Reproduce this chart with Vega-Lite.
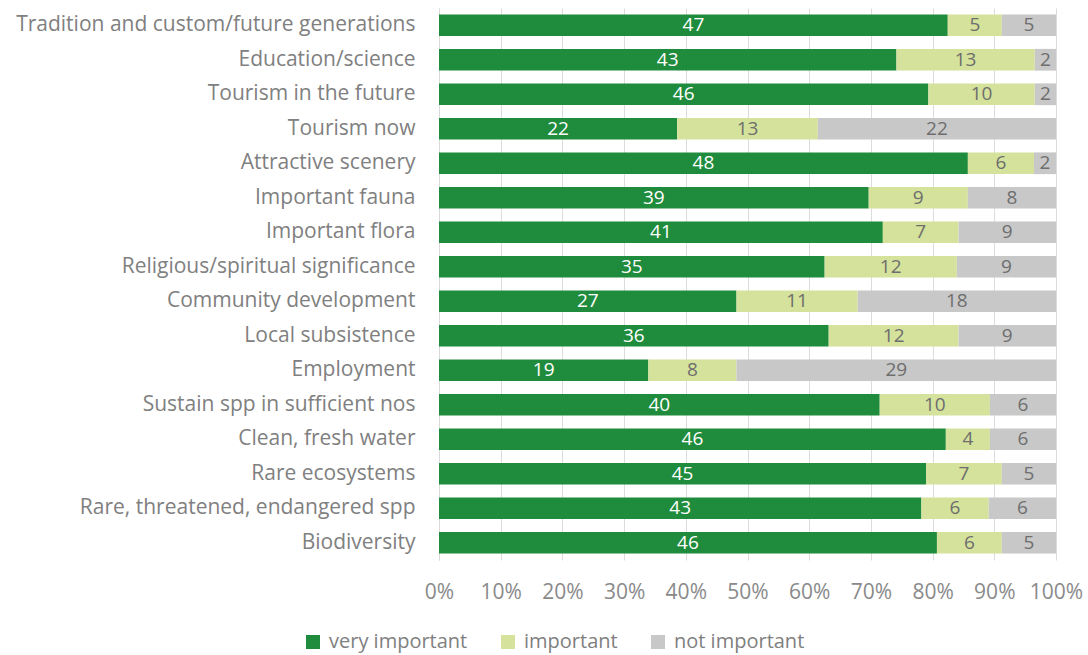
{
  "$schema": "https://vega.github.io/schema/vega-lite/v6.json",
  "width": 617,
  "height": 552,
  "autosize": {"type": "none"},
  "padding": {"left": 439, "top": 8, "right": 32, "bottom": 95},
  "background": "white",
  "config": {"view": {"stroke": null}, "font": "Open Sans"},
  "data": {
    "values": [
      {"category": "Tradition and custom/future generations", "level": "very important", "ord": 1, "value": 47},
      {"category": "Tradition and custom/future generations", "level": "important", "ord": 2, "value": 5},
      {"category": "Tradition and custom/future generations", "level": "not important", "ord": 3, "value": 5},
      {"category": "Education/science", "level": "very important", "ord": 1, "value": 43},
      {"category": "Education/science", "level": "important", "ord": 2, "value": 13},
      {"category": "Education/science", "level": "not important", "ord": 3, "value": 2},
      {"category": "Tourism in the future", "level": "very important", "ord": 1, "value": 46},
      {"category": "Tourism in the future", "level": "important", "ord": 2, "value": 10},
      {"category": "Tourism in the future", "level": "not important", "ord": 3, "value": 2},
      {"category": "Tourism now", "level": "very important", "ord": 1, "value": 22},
      {"category": "Tourism now", "level": "important", "ord": 2, "value": 13},
      {"category": "Tourism now", "level": "not important", "ord": 3, "value": 22},
      {"category": "Attractive scenery", "level": "very important", "ord": 1, "value": 48},
      {"category": "Attractive scenery", "level": "important", "ord": 2, "value": 6},
      {"category": "Attractive scenery", "level": "not important", "ord": 3, "value": 2},
      {"category": "Important fauna", "level": "very important", "ord": 1, "value": 39},
      {"category": "Important fauna", "level": "important", "ord": 2, "value": 9},
      {"category": "Important fauna", "level": "not important", "ord": 3, "value": 8},
      {"category": "Important flora", "level": "very important", "ord": 1, "value": 41},
      {"category": "Important flora", "level": "important", "ord": 2, "value": 7},
      {"category": "Important flora", "level": "not important", "ord": 3, "value": 9},
      {"category": "Religious/spiritual significance", "level": "very important", "ord": 1, "value": 35},
      {"category": "Religious/spiritual significance", "level": "important", "ord": 2, "value": 12},
      {"category": "Religious/spiritual significance", "level": "not important", "ord": 3, "value": 9},
      {"category": "Community development", "level": "very important", "ord": 1, "value": 27},
      {"category": "Community development", "level": "important", "ord": 2, "value": 11},
      {"category": "Community development", "level": "not important", "ord": 3, "value": 18},
      {"category": "Local subsistence", "level": "very important", "ord": 1, "value": 36},
      {"category": "Local subsistence", "level": "important", "ord": 2, "value": 12},
      {"category": "Local subsistence", "level": "not important", "ord": 3, "value": 9},
      {"category": "Employment", "level": "very important", "ord": 1, "value": 19},
      {"category": "Employment", "level": "important", "ord": 2, "value": 8},
      {"category": "Employment", "level": "not important", "ord": 3, "value": 29},
      {"category": "Sustain spp in sufficient nos", "level": "very important", "ord": 1, "value": 40},
      {"category": "Sustain spp in sufficient nos", "level": "important", "ord": 2, "value": 10},
      {"category": "Sustain spp in sufficient nos", "level": "not important", "ord": 3, "value": 6},
      {"category": "Clean, fresh water", "level": "very important", "ord": 1, "value": 46},
      {"category": "Clean, fresh water", "level": "important", "ord": 2, "value": 4},
      {"category": "Clean, fresh water", "level": "not important", "ord": 3, "value": 6},
      {"category": "Rare ecosystems", "level": "very important", "ord": 1, "value": 45},
      {"category": "Rare ecosystems", "level": "important", "ord": 2, "value": 7},
      {"category": "Rare ecosystems", "level": "not important", "ord": 3, "value": 5},
      {"category": "Rare, threatened, endangered spp", "level": "very important", "ord": 1, "value": 43},
      {"category": "Rare, threatened, endangered spp", "level": "important", "ord": 2, "value": 6},
      {"category": "Rare, threatened, endangered spp", "level": "not important", "ord": 3, "value": 6},
      {"category": "Biodiversity", "level": "very important", "ord": 1, "value": 46},
      {"category": "Biodiversity", "level": "important", "ord": 2, "value": 6},
      {"category": "Biodiversity", "level": "not important", "ord": 3, "value": 5}
    ]
  },
  "encoding": {
    "y": {
      "field": "category",
      "type": "nominal",
      "sort": ["Tradition and custom/future generations", "Education/science", "Tourism in the future", "Tourism now", "Attractive scenery", "Important fauna", "Important flora", "Religious/spiritual significance", "Community development", "Local subsistence", "Employment", "Sustain spp in sufficient nos", "Clean, fresh water", "Rare ecosystems", "Rare, threatened, endangered spp", "Biodiversity"],
      "scale": {"paddingInner": 0.37, "paddingOuter": 0.185},
      "axis": {
        "title": null,
        "domain": true,
        "domainColor": "#d9d9d9",
        "ticks": false,
        "grid": false,
        "labelFontSize": 21,
        "labelColor": "#808080",
        "labelPadding": 24,
        "labelLimit": 500
      }
    },
    "x": {
      "field": "value",
      "type": "quantitative",
      "stack": "normalize",
      "axis": {
        "title": null,
        "values": [0, 0.1, 0.2, 0.3, 0.4, 0.5, 0.6, 0.7, 0.8, 0.9, 1],
        "format": ".0%",
        "domain": false,
        "ticks": false,
        "grid": true,
        "gridColor": "#dcdcdc",
        "labelFontSize": 21,
        "labelColor": "#8a8a8a",
        "labelPadding": 21,
        "labelFlush": false
      }
    },
    "order": {"field": "ord", "type": "quantitative"}
  },
  "layer": [
    {
      "mark": {"type": "bar"},
      "encoding": {
        "color": {
          "field": "level",
          "type": "nominal",
          "scale": {"domain": ["very important", "important", "not important"], "range": ["#1f8b3c", "#d4e29b", "#c8c8c8"]},
          "legend": {
            "orient": "none",
            "legendX": -136,
            "legendY": 624,
            "direction": "horizontal",
            "title": null,
            "symbolType": "square",
            "symbolSize": 196,
            "symbolStrokeWidth": 0,
            "labelFontSize": 20,
            "labelColor": "#808080",
            "labelOffset": 6,
            "columnPadding": 30
          }
        }
      }
    },
    {
      "mark": {"type": "text", "fontSize": 19, "baseline": "middle"},
      "encoding": {
        "x": {"field": "value", "type": "quantitative", "stack": "normalize", "bandPosition": 0.5},
        "text": {"field": "value", "type": "quantitative"},
        "color": {"condition": {"test": "datum.level === 'very important'", "value": "#ffffff"}, "value": "#6e6e6e"}
      }
    }
  ]
}
